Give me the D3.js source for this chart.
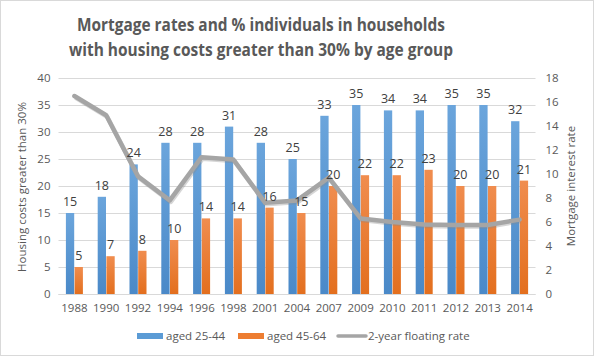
<!DOCTYPE html>
<html><head><meta charset="utf-8">
<script src="https://cdn.jsdelivr.net/npm/d3@7"></script>
<style>body{margin:0;background:#fff}svg{display:block}text{font-family:"Open Sans",sans-serif}</style>
</head><body><svg id="c" width="594" height="356"></svg>
<script>
const years = ["1988","1990","1992","1994","1996","1998","2001","2004","2007","2009","2010","2011","2012","2013","2014"];
const aged2544 = [15,18,24,28,28,31,28,25,33,35,34,34,35,35,32];
const aged4564 = [5,7,8,10,14,14,16,15,20,22,22,23,20,20,21];
const floatingRate = [16.5,14.9,9.8,7.8,11.4,11.2,7.6,7.8,9.7,6.3,6.0,5.8,5.75,5.75,6.2];
const leftTicks = [0,5,10,15,20,25,30,35,40];
const rightTicks = [0,2,4,6,8,10,12,14,16,18];
const seriesNames = ["aged 25-44","aged 45-64","2-year floating rate"];

const svg = d3.select("#c");
const W=594,H=356;
const plot = {l:58.5,r:535.5,t:78,b:294};
svg.append("rect").attr("x",0.5).attr("y",0.5).attr("width",W-1).attr("height",H-1).attr("fill","#fff").attr("stroke","#d9d9d9");

const defs = svg.append("defs");
function grad(id,c1,c2){const g=defs.append("linearGradient").attr("id",id).attr("x1",0).attr("y1",0).attr("x2",0).attr("y2",1);
 g.append("stop").attr("offset","0%").attr("stop-color",c1); g.append("stop").attr("offset","100%").attr("stop-color",c2);}
grad("gb","#6ba5dc","#4a89c8"); grad("go","#f08d4f","#e36f1e");

const x = d3.scaleBand().domain(years).range([plot.l,plot.r]).paddingInner(0).paddingOuter(0);
const yL = d3.scaleLinear().domain([0,40]).range([plot.b,plot.t]);
const yR = d3.scaleLinear().domain([0,18]).range([plot.b,plot.t]);

// gridlines
svg.append("g").selectAll("line").data(leftTicks).join("line")
 .attr("x1",plot.l).attr("x2",plot.r).attr("y1",d=>Math.round(yL(d))+0.5).attr("y2",d=>Math.round(yL(d))+0.5)
 .attr("stroke","#d9d9d9").attr("stroke-width",1);

// title
const title = svg.append("text").attr("text-anchor","middle").attr("fill","#595959").attr("font-weight","bold").attr("font-size",18);
title.append("tspan").attr("x",261).attr("y",31).attr("textLength",368).attr("lengthAdjust","spacingAndGlyphs").text("Mortgage rates and % individuals  in households");
title.append("tspan").attr("x",261).attr("y",56).attr("textLength",384).attr("lengthAdjust","spacingAndGlyphs").text("with housing costs greater than 30% by age group");

// axes
const axL = d3.axisLeft(yL).tickValues(leftTicks).tickSize(0).tickPadding(8);
const gL = svg.append("g").attr("transform",`translate(${plot.l},0)`).call(axL);
const axR = d3.axisRight(yR).tickValues(rightTicks).tickSize(0).tickPadding(10);
const gR = svg.append("g").attr("transform",`translate(${plot.r},0)`).call(axR);
const axB = d3.axisBottom(x).tickSize(0).tickPadding(10);
const gB = svg.append("g").attr("transform",`translate(0,${plot.b})`).call(axB);
[gL,gR,gB].forEach(g=>{g.select(".domain").remove();g.selectAll("text").attr("fill","#595959").attr("font-size",11.5).attr("font-family","'Open Sans',sans-serif");});
svg.append("line").attr("x1",plot.l).attr("x2",plot.r).attr("y1",plot.b+0.5).attr("y2",plot.b+0.5).attr("stroke","#d9d9d9");

svg.append("text").attr("transform",`translate(26,${(plot.t+plot.b)/2+1}) rotate(-90)`).attr("text-anchor","middle")
 .attr("fill","#595959").attr("font-size",11.5).text("Housing costs greater than 30%");
svg.append("text").attr("transform",`translate(575,${(plot.t+plot.b)/2}) rotate(-90)`).attr("text-anchor","middle")
 .attr("fill","#595959").attr("font-size",11.5).text("Mortgage interest rate");

// bars
const bw = 8.3;
function gx(i){return x(years[i])+x.bandwidth()/2-8.5;}
const gBars = svg.append("g");
gBars.selectAll("rect.b").data(aged2544).join("rect").attr("class","b")
 .attr("x",(d,i)=>gx(i)).attr("width",bw).attr("y",d=>yL(d)).attr("height",d=>plot.b-yL(d)).attr("fill","url(#gb)");
gBars.selectAll("rect.o").data(aged4564).join("rect").attr("class","o")
 .attr("x",(d,i)=>gx(i)+8.7).attr("width",bw).attr("y",d=>yL(d)).attr("height",d=>plot.b-yL(d)).attr("fill","url(#go)");

// line
const line = d3.line().x((d,i)=>x(years[i])+x.bandwidth()/2).y(d=>yR(d));
svg.append("path").datum(floatingRate).attr("d",line).attr("fill","none").attr("stroke","#8a8a8a").attr("stroke-opacity",0.35)
 .attr("stroke-width",4.5).attr("transform","translate(1,1.5)").attr("stroke-linejoin","round");
svg.append("path").datum(floatingRate).attr("d",line).attr("fill","none").attr("stroke","#a5a5a5")
 .attr("stroke-width",4.5).attr("stroke-linejoin","round").attr("stroke-linecap","round");

// labels
svg.append("g").selectAll("text").data(aged2544).join("text")
 .attr("x",(d,i)=>gx(i)+bw/2).attr("y",d=>yL(d)-7).attr("text-anchor","middle").attr("fill","#404040").attr("font-size",12.5).text(d=>d);
svg.append("g").selectAll("text").data(aged4564).join("text")
 .attr("x",(d,i)=>gx(i)+8.7+bw/2).attr("y",d=>yL(d)-7).attr("text-anchor","middle").attr("fill","#404040").attr("font-size",12.5).text(d=>d);

// legend
const lg = svg.append("g").attr("font-size",11.5).attr("fill","#595959");
lg.append("rect").attr("x",137).attr("y",333).attr("width",26).attr("height",6).attr("fill","#5b9bd5");
lg.append("text").attr("x",166).attr("y",340).attr("fill","#595959").text(seriesNames[0]);
lg.append("rect").attr("x",238).attr("y",333).attr("width",26).attr("height",6).attr("fill","#ed7d31");
lg.append("text").attr("x",267).attr("y",340).attr("fill","#595959").text(seriesNames[1]);
lg.append("line").attr("x1",338).attr("x2",366).attr("y1",336).attr("y2",336).attr("stroke","#a5a5a5").attr("stroke-width",3.5).attr("stroke-linecap","round");
lg.append("text").attr("x",368).attr("y",340).attr("fill","#595959").text(seriesNames[2]);
</script></body></html>
